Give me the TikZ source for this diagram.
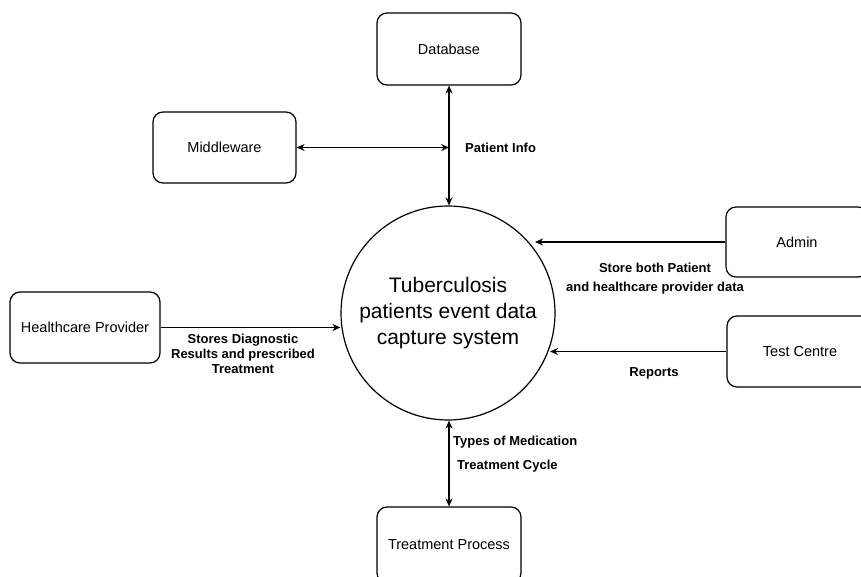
\documentclass[tikz,border=0pt]{standalone}
\usepackage{fontspec}
\setmainfont{Liberation Sans}
\usetikzlibrary{arrows.meta}
\begin{document}
\begin{tikzpicture}[x=1pt,y=-1pt,
  box/.style={draw,rounded corners=10pt,line width=1.2pt,inner sep=0pt,font=\fontsize{14.5}{17}\selectfont},
  flow/.style={line width=1.4pt,-{Stealth[length=8pt,width=7pt]}},
  both/.style={line width=1.3pt,{Stealth[length=8pt,width=7pt]}-{Stealth[length=8pt,width=7pt]}},
  bigflow/.style={line width=2.4pt,{Stealth[length=8pt,width=7pt]}-{Stealth[length=8pt,width=7pt]}},
  lbl/.style={font=\fontsize{13}{15}\selectfont\bfseries,inner sep=0pt,align=center}]
\useasboundingbox (0,0) rectangle (861,577);
\clip (0,0) rectangle (861,577);
\fill[white] (0,0) rectangle (861,577);
\node[box,minimum width=144pt,minimum height=72pt] (db) at (449,49) {Database};
\node[box,minimum width=143pt,minimum height=71pt] (mw) at (224.5,147.5) {Middleware};
\node[box,minimum width=142pt,minimum height=70pt] (admin) at (797,242) {Admin};
\node[box,minimum width=146pt,minimum height=71pt] (test) at (800,351.5) {Test Centre};
\node[box,minimum width=150pt,minimum height=71pt] (hp) at (85,327.5) {Healthcare Provider};
\node[box,minimum width=144pt,minimum height=76pt] (tp) at (449,545) {Treatment Process};
\node[draw,circle,line width=1.2pt,inner sep=0pt,minimum size=214pt] (circ) at (448,313) {};
\node[align=center,inner sep=0pt,font=\fontsize{21}{26}\selectfont] (ctext) at (circ.center) {Tuberculosis\\patients event data\\capture system};
\coordinate (aend) at (535,242);
\coordinate (tend) at (550,351.5);
\draw[bigflow] (db.south) -- (db.south |- circ.north);
\draw[both] (mw.east) -- (mw.east -| db.south);
\draw[bigflow] (circ.south -| tp.north) -- (tp.north);
\draw[flow] (hp.east) -- (hp.east -| circ.west);
\draw[flow] (admin.west) -- (aend);
\draw[flow] (test.west) -- (tend);
\node[lbl,anchor=west] (l1) at (465,148) {Patient Info};
\node[lbl,font=\fontsize{13}{19}\selectfont\bfseries] (l2) at (655,279) {Store both Patient\\and healthcare provider data};
\node[lbl] (l3) at (654,373) {Reports};
\node[lbl] (l4) at (243,354) {Stores Diagnostic\\Results and prescribed\\Treatment};
\node[lbl,anchor=west] (l5) at (453,442) {Types of Medication};
\node[lbl,anchor=west] (l6) at (457,466) {Treatment Cycle};
\end{tikzpicture}
\end{document}
